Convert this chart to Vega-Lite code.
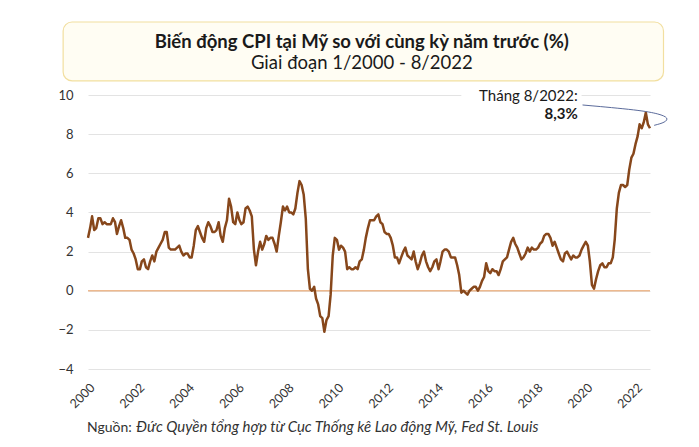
{
  "$schema": "https://vega.github.io/schema/vega-lite/v6.json",
  "width": 562,
  "height": 274,
  "autosize": {"type": "none"},
  "padding": {"left": 88, "top": 95, "right": 49, "bottom": 78},
  "background": "white",
  "config": {"view": {"stroke": null}, "font": "Lato", "text": {"font": "Lato"}},
  "encoding": {
    "x": {"field": "d", "type": "temporal",
      "scale": {"type": "utc", "domain": [{"year": 2000, "month": 1, "date": 1, "utc": true}, {"year": 2022, "month": 8, "date": 1, "utc": true}]},
      "axis": {"title": null, "grid": false, "domain": false, "ticks": false, "labelAngle": -45, "labelAlign": "right", "labelBaseline": "top", "labelPadding": 12, "labelFontSize": 12.5, "labelColor": "#333333", "labelFont": "Lato", "labelFlush": false, "labelOverlap": false, "tickCount": {"interval": "year", "step": 2}, "format": "%Y"}},
    "y": {"field": "v", "type": "quantitative",
      "scale": {"domain": [-4, 10], "nice": false, "zero": false},
      "axis": {"title": null, "grid": true, "gridColor": "#e3e3e3", "domain": false, "ticks": false, "labelPadding": 15, "labelFontSize": 13, "labelColor": "#333333", "labelFont": "Lato", "values": [-4, -2, 0, 2, 4, 6, 8, 10]}}
  },
  "layer": [
    {
      "data": {"values": [{"d": "1999-01-01", "d2": "2023-02-15", "v": 13.73, "v2": 10.72}]},
      "mark": {"type": "rect", "fill": "#fffdf3", "stroke": "#f2dfa0", "strokeWidth": 1.2, "cornerRadius": 9},
      "encoding": {"x2": {"field": "d2"}, "y2": {"field": "v2"}}
    },
    {
      "data": {"values": [{"d": "2015-01-01", "d2": "2019-11-01", "v": 10.4, "v2": 8.6}]},
      "mark": {"type": "rect", "fill": "white"},
      "encoding": {"x2": {"field": "d2"}, "y2": {"field": "v2"}}
    },
    {
      "data": {"values": [{"d": "2000-01-01", "d2": "2022-08-01", "v": 0}]},
      "mark": {"type": "rule", "color": "#edb98f", "strokeWidth": 1.5},
      "encoding": {"x2": {"field": "d2"}}
    },
    {
      "data": {"values": [
        {"d":"2000-01","v":2.7},{"d":"2000-02","v":3.2},{"d":"2000-03","v":3.8},{"d":"2000-04","v":3.1},{"d":"2000-05","v":3.2},{"d":"2000-06","v":3.7},{"d":"2000-07","v":3.7},{"d":"2000-08","v":3.4},{"d":"2000-09","v":3.5},{"d":"2000-10","v":3.4},{"d":"2000-11","v":3.4},{"d":"2000-12","v":3.4},
        {"d":"2001-01","v":3.7},{"d":"2001-02","v":3.5},{"d":"2001-03","v":2.9},{"d":"2001-04","v":3.3},{"d":"2001-05","v":3.6},{"d":"2001-06","v":3.2},{"d":"2001-07","v":2.7},{"d":"2001-08","v":2.7},{"d":"2001-09","v":2.6},{"d":"2001-10","v":2.1},{"d":"2001-11","v":1.9},{"d":"2001-12","v":1.6},
        {"d":"2002-01","v":1.1},{"d":"2002-02","v":1.1},{"d":"2002-03","v":1.5},{"d":"2002-04","v":1.6},{"d":"2002-05","v":1.2},{"d":"2002-06","v":1.1},{"d":"2002-07","v":1.5},{"d":"2002-08","v":1.8},{"d":"2002-09","v":1.5},{"d":"2002-10","v":2.0},{"d":"2002-11","v":2.2},{"d":"2002-12","v":2.4},
        {"d":"2003-01","v":2.6},{"d":"2003-02","v":3.0},{"d":"2003-03","v":3.0},{"d":"2003-04","v":2.2},{"d":"2003-05","v":2.1},{"d":"2003-06","v":2.1},{"d":"2003-07","v":2.1},{"d":"2003-08","v":2.2},{"d":"2003-09","v":2.3},{"d":"2003-10","v":2.0},{"d":"2003-11","v":1.8},{"d":"2003-12","v":1.9},
        {"d":"2004-01","v":1.9},{"d":"2004-02","v":1.7},{"d":"2004-03","v":1.7},{"d":"2004-04","v":2.3},{"d":"2004-05","v":3.1},{"d":"2004-06","v":3.3},{"d":"2004-07","v":3.0},{"d":"2004-08","v":2.7},{"d":"2004-09","v":2.5},{"d":"2004-10","v":3.2},{"d":"2004-11","v":3.5},{"d":"2004-12","v":3.3},
        {"d":"2005-01","v":3.0},{"d":"2005-02","v":3.0},{"d":"2005-03","v":3.1},{"d":"2005-04","v":3.5},{"d":"2005-05","v":2.8},{"d":"2005-06","v":2.5},{"d":"2005-07","v":3.2},{"d":"2005-08","v":3.6},{"d":"2005-09","v":4.7},{"d":"2005-10","v":4.3},{"d":"2005-11","v":3.5},{"d":"2005-12","v":3.4},
        {"d":"2006-01","v":4.0},{"d":"2006-02","v":3.6},{"d":"2006-03","v":3.4},{"d":"2006-04","v":3.5},{"d":"2006-05","v":4.2},{"d":"2006-06","v":4.3},{"d":"2006-07","v":4.1},{"d":"2006-08","v":3.8},{"d":"2006-09","v":2.1},{"d":"2006-10","v":1.3},{"d":"2006-11","v":2.0},{"d":"2006-12","v":2.5},
        {"d":"2007-01","v":2.1},{"d":"2007-02","v":2.4},{"d":"2007-03","v":2.8},{"d":"2007-04","v":2.6},{"d":"2007-05","v":2.7},{"d":"2007-06","v":2.7},{"d":"2007-07","v":2.4},{"d":"2007-08","v":2.0},{"d":"2007-09","v":2.8},{"d":"2007-10","v":3.5},{"d":"2007-11","v":4.3},{"d":"2007-12","v":4.1},
        {"d":"2008-01","v":4.3},{"d":"2008-02","v":4.0},{"d":"2008-03","v":4.0},{"d":"2008-04","v":3.9},{"d":"2008-05","v":4.2},{"d":"2008-06","v":5.0},{"d":"2008-07","v":5.6},{"d":"2008-08","v":5.4},{"d":"2008-09","v":4.9},{"d":"2008-10","v":3.7},{"d":"2008-11","v":1.1},{"d":"2008-12","v":0.1},
        {"d":"2009-01","v":0.0},{"d":"2009-02","v":0.2},{"d":"2009-03","v":-0.4},{"d":"2009-04","v":-0.7},{"d":"2009-05","v":-1.3},{"d":"2009-06","v":-1.4},{"d":"2009-07","v":-2.1},{"d":"2009-08","v":-1.5},{"d":"2009-09","v":-1.3},{"d":"2009-10","v":-0.2},{"d":"2009-11","v":1.8},{"d":"2009-12","v":2.7},
        {"d":"2010-01","v":2.6},{"d":"2010-02","v":2.1},{"d":"2010-03","v":2.3},{"d":"2010-04","v":2.2},{"d":"2010-05","v":2.0},{"d":"2010-06","v":1.1},{"d":"2010-07","v":1.2},{"d":"2010-08","v":1.1},{"d":"2010-09","v":1.1},{"d":"2010-10","v":1.2},{"d":"2010-11","v":1.1},{"d":"2010-12","v":1.5},
        {"d":"2011-01","v":1.6},{"d":"2011-02","v":2.1},{"d":"2011-03","v":2.7},{"d":"2011-04","v":3.2},{"d":"2011-05","v":3.6},{"d":"2011-06","v":3.6},{"d":"2011-07","v":3.6},{"d":"2011-08","v":3.8},{"d":"2011-09","v":3.9},{"d":"2011-10","v":3.5},{"d":"2011-11","v":3.4},{"d":"2011-12","v":3.0},
        {"d":"2012-01","v":2.9},{"d":"2012-02","v":2.9},{"d":"2012-03","v":2.7},{"d":"2012-04","v":2.3},{"d":"2012-05","v":1.7},{"d":"2012-06","v":1.7},{"d":"2012-07","v":1.4},{"d":"2012-08","v":1.7},{"d":"2012-09","v":2.0},{"d":"2012-10","v":2.2},{"d":"2012-11","v":1.8},{"d":"2012-12","v":1.7},
        {"d":"2013-01","v":1.6},{"d":"2013-02","v":2.0},{"d":"2013-03","v":1.5},{"d":"2013-04","v":1.1},{"d":"2013-05","v":1.4},{"d":"2013-06","v":1.8},{"d":"2013-07","v":2.0},{"d":"2013-08","v":1.5},{"d":"2013-09","v":1.2},{"d":"2013-10","v":1.0},{"d":"2013-11","v":1.2},{"d":"2013-12","v":1.5},
        {"d":"2014-01","v":1.6},{"d":"2014-02","v":1.1},{"d":"2014-03","v":1.5},{"d":"2014-04","v":2.0},{"d":"2014-05","v":2.1},{"d":"2014-06","v":2.1},{"d":"2014-07","v":2.0},{"d":"2014-08","v":1.7},{"d":"2014-09","v":1.7},{"d":"2014-10","v":1.7},{"d":"2014-11","v":1.3},{"d":"2014-12","v":0.8},
        {"d":"2015-01","v":-0.1},{"d":"2015-02","v":0.0},{"d":"2015-03","v":-0.1},{"d":"2015-04","v":-0.2},{"d":"2015-05","v":0.0},{"d":"2015-06","v":0.1},{"d":"2015-07","v":0.2},{"d":"2015-08","v":0.2},{"d":"2015-09","v":0.0},{"d":"2015-10","v":0.2},{"d":"2015-11","v":0.5},{"d":"2015-12","v":0.7},
        {"d":"2016-01","v":1.4},{"d":"2016-02","v":1.0},{"d":"2016-03","v":0.9},{"d":"2016-04","v":1.1},{"d":"2016-05","v":1.0},{"d":"2016-06","v":1.0},{"d":"2016-07","v":0.8},{"d":"2016-08","v":1.1},{"d":"2016-09","v":1.5},{"d":"2016-10","v":1.6},{"d":"2016-11","v":1.7},{"d":"2016-12","v":2.1},
        {"d":"2017-01","v":2.5},{"d":"2017-02","v":2.7},{"d":"2017-03","v":2.4},{"d":"2017-04","v":2.2},{"d":"2017-05","v":1.9},{"d":"2017-06","v":1.6},{"d":"2017-07","v":1.7},{"d":"2017-08","v":1.9},{"d":"2017-09","v":2.2},{"d":"2017-10","v":2.0},{"d":"2017-11","v":2.2},{"d":"2017-12","v":2.1},
        {"d":"2018-01","v":2.1},{"d":"2018-02","v":2.2},{"d":"2018-03","v":2.4},{"d":"2018-04","v":2.5},{"d":"2018-05","v":2.8},{"d":"2018-06","v":2.9},{"d":"2018-07","v":2.9},{"d":"2018-08","v":2.7},{"d":"2018-09","v":2.3},{"d":"2018-10","v":2.5},{"d":"2018-11","v":2.2},{"d":"2018-12","v":1.9},
        {"d":"2019-01","v":1.6},{"d":"2019-02","v":1.5},{"d":"2019-03","v":1.9},{"d":"2019-04","v":2.0},{"d":"2019-05","v":1.8},{"d":"2019-06","v":1.6},{"d":"2019-07","v":1.8},{"d":"2019-08","v":1.7},{"d":"2019-09","v":1.7},{"d":"2019-10","v":1.8},{"d":"2019-11","v":2.1},{"d":"2019-12","v":2.3},
        {"d":"2020-01","v":2.5},{"d":"2020-02","v":2.3},{"d":"2020-03","v":1.5},{"d":"2020-04","v":0.3},{"d":"2020-05","v":0.1},{"d":"2020-06","v":0.6},{"d":"2020-07","v":1.0},{"d":"2020-08","v":1.3},{"d":"2020-09","v":1.4},{"d":"2020-10","v":1.2},{"d":"2020-11","v":1.2},{"d":"2020-12","v":1.4},
        {"d":"2021-01","v":1.4},{"d":"2021-02","v":1.7},{"d":"2021-03","v":2.6},{"d":"2021-04","v":4.2},{"d":"2021-05","v":5.0},{"d":"2021-06","v":5.4},{"d":"2021-07","v":5.4},{"d":"2021-08","v":5.3},{"d":"2021-09","v":5.4},{"d":"2021-10","v":6.2},{"d":"2021-11","v":6.8},{"d":"2021-12","v":7.0},
        {"d":"2022-01","v":7.5},{"d":"2022-02","v":7.9},{"d":"2022-03","v":8.5},{"d":"2022-04","v":8.3},{"d":"2022-05","v":8.6},{"d":"2022-06","v":9.1},{"d":"2022-07","v":8.5},{"d":"2022-08","v":8.3}
      ]},
      "mark": {"type": "line", "color": "#87471b", "strokeWidth": 2.5, "strokeJoin": "round"}
    },
    {
      "data": {"values": [
        {"d": "2019-11-15", "v": 9.49, "i": 1},
        {"d": "2022-03-01", "v": 9.23, "i": 2},
        {"d": "2022-12-20", "v": 9.03, "i": 3},
        {"d": "2023-05-01", "v": 8.83, "i": 4},
        {"d": "2023-03-15", "v": 8.6, "i": 5},
        {"d": "2022-10-01", "v": 8.45, "i": 6}
      ]},
      "mark": {"type": "line", "color": "#5b6b9b", "strokeWidth": 1, "interpolate": "basis"},
      "encoding": {"order": {"field": "i", "type": "quantitative"}}
    },
    {
      "data": {"values": [{"d": "2011-01-01", "v": 12.71, "t": "Biến động CPI tại Mỹ so với cùng kỳ năm trước (%)"}]},
      "mark": {"type": "text", "fontSize": 18.5, "fontWeight": "bold", "color": "#1a1a1a", "align": "center", "baseline": "middle"},
      "encoding": {"text": {"field": "t"}}
    },
    {
      "data": {"values": [{"d": "2011-01-01", "v": 11.64, "t": "Giai đoạn 1/2000 - 8/2022"}]},
      "mark": {"type": "text", "fontSize": 18.5, "color": "#1a1a1a", "align": "center", "baseline": "middle"},
      "encoding": {"text": {"field": "t"}}
    },
    {
      "data": {"values": [{"d": "2019-09-05", "v": 9.95, "t": "Tháng 8/2022:"}]},
      "mark": {"type": "text", "fontSize": 15, "color": "#1a1a1a", "align": "right", "baseline": "middle"},
      "encoding": {"text": {"field": "t"}}
    },
    {
      "data": {"values": [{"d": "2019-09-05", "v": 9.03, "t": "8,3%"}]},
      "mark": {"type": "text", "fontSize": 15, "fontWeight": "bold", "color": "#1a1a1a", "align": "right", "baseline": "middle"},
      "encoding": {"text": {"field": "t"}}
    },
    {
      "data": {"values": [{"d": "1999-12-17", "v": -7.22, "t": "Nguồn:"}]},
      "mark": {"type": "text", "fontSize": 14, "color": "#333333", "align": "left", "baseline": "alphabetic"},
      "encoding": {"text": {"field": "t"}}
    },
    {
      "data": {"values": [{"d": "2001-12-10", "v": -7.22, "t": "Đức Quyền tổng hợp từ Cục Thống kê Lao động Mỹ, Fed St. Louis"}]},
      "mark": {"type": "text", "fontSize": 15, "fontStyle": "italic", "color": "#333333", "align": "left", "baseline": "alphabetic"},
      "encoding": {"text": {"field": "t"}}
    }
  ]
}
